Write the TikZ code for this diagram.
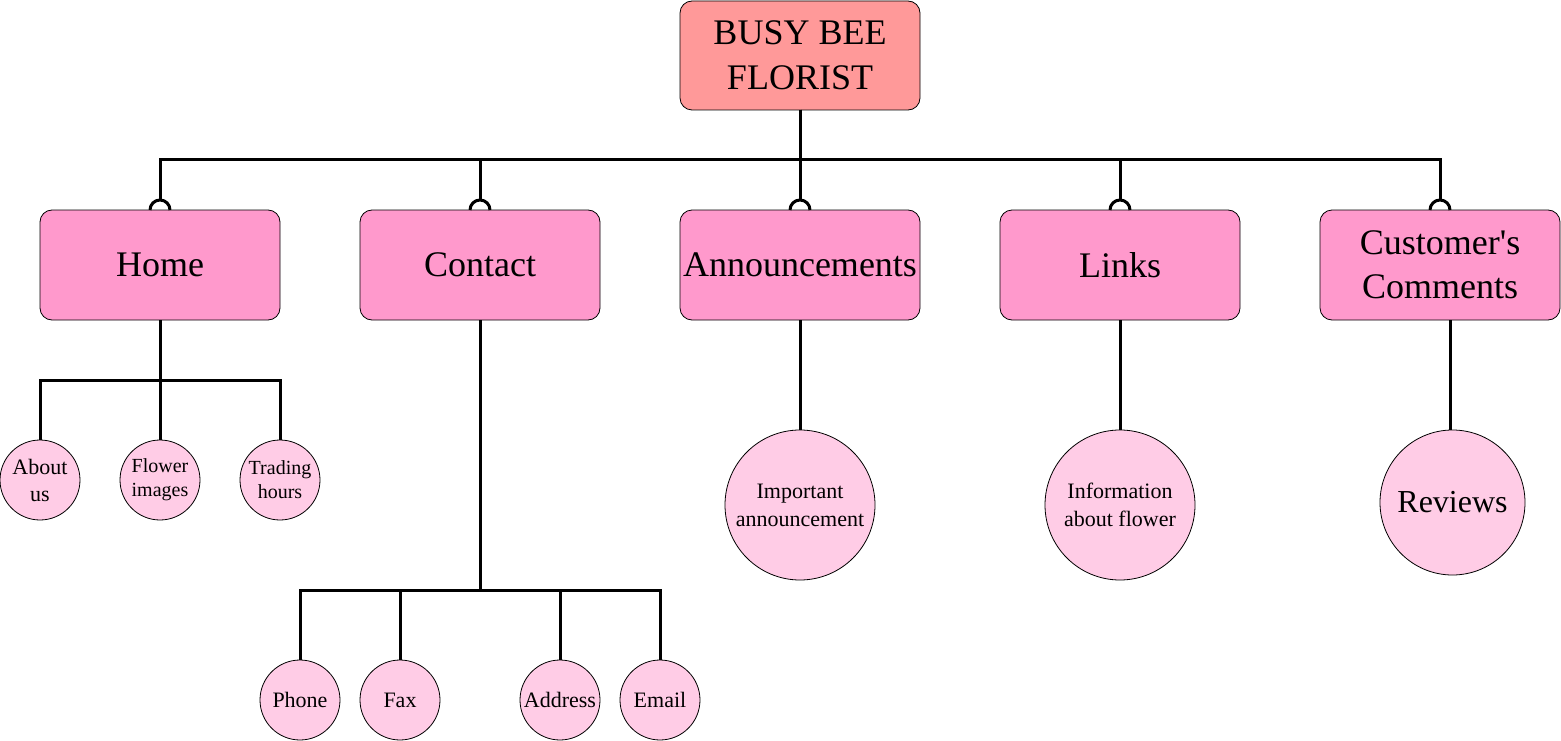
\documentclass[tikz,border=0pt]{standalone}
\usepackage{fontspec}
\setmainfont{Liberation Serif}
\definecolor{rootfill}{HTML}{FF9999}
\definecolor{boxfill}{HTML}{FF99CC}
\definecolor{leaffill}{HTML}{FFCCE6}
\newcommand{\straightquote}{{\XeTeXglyph\XeTeXcharglyph"27\relax}}
\begin{document}
\begin{tikzpicture}[x=1pt,y=1pt,
  rootbox/.style={draw=black,line width=0.8pt,fill=rootfill,rounded corners=12pt,minimum width=240pt,minimum height=109pt,inner sep=0pt,outer sep=0pt,align=center,font=\fontsize{36}{45}\selectfont},
  pagebox/.style={draw=black,line width=0.8pt,fill=boxfill,rounded corners=12pt,minimum width=240pt,minimum height=110pt,inner sep=0pt,outer sep=0pt,align=center,font=\fontsize{36}{44}\selectfont},
  leaf/.style={draw=black,line width=0.8pt,fill=leaffill,circle,inner sep=0pt,outer sep=0pt,align=center},
  smallleaf/.style={leaf,minimum size=80pt},
  bigleaf/.style={leaf,minimum size=150pt,font=\fontsize{22}{28}\selectfont},
  conn/.style={line width=3pt},
  tipc/.style={line width=3pt}
]
\useasboundingbox (0,0) rectangle (1561,-741);
% root
\node[rootbox] (root) at (800,-55.5) {BUSY BEE\\FLORIST};
% second level
\node[pagebox] (home) at (160,-265) {Home};
\node[pagebox] (contact) at (480,-265) {Contact};
\node[pagebox] (ann) at (800,-265) {Announcements};
\node[pagebox] (links) at (1120,-265) {Links};
\node[pagebox] (cc) at (1440,-265) {Customer\straightquote s\\Comments};
% leaves
\node[smallleaf,font=\fontsize{22}{27}\selectfont] (about) at (40,-480) {About\\us};
\node[smallleaf,font=\fontsize{20}{24}\selectfont] (flower) at (160,-480) {Flower\\images};
\node[smallleaf,font=\fontsize{20}{24}\selectfont] (trading) at (280,-480) {Trading\\hours};
\node[smallleaf,font=\fontsize{22}{27}\selectfont] (phone) at (300,-700) {Phone};
\node[smallleaf,font=\fontsize{22}{27}\selectfont] (fax) at (400,-700) {Fax};
\node[smallleaf,font=\fontsize{22}{27}\selectfont] (address) at (560,-700) {Address};
\node[smallleaf,font=\fontsize{22}{27}\selectfont] (email) at (660,-700) {Email};
\node[bigleaf] (imp) at (800,-505) {Important\\announcement};
\node[bigleaf] (info) at (1120,-505) {Information\\about flower};
\node[leaf,minimum size=145pt,font=\fontsize{32}{38}\selectfont] (rev) at (1452.5,-502.5) {Reviews};
% bus from root
\coordinate (busy) at (800,-160);
\foreach \n in {home,contact,ann,links,cc}{
  \draw[conn] (root.south) -- (root.south |- busy) -| ([yshift=10pt]\n.north);
  \draw[tipc] ([xshift=-10pt]\n.north) arc[start angle=180,end angle=0,radius=10pt];
}
% home children
\coordinate (hbus) at (160,-380);
\foreach \n in {about,flower,trading}{
  \draw[conn] (home.south) -- (home.south |- hbus) -| (\n.north);
}
% contact children
\coordinate (cbus) at (480,-590);
\foreach \n in {phone,fax,address,email}{
  \draw[conn] (contact.south) -- (contact.south |- cbus) -| (\n.north);
}
\draw[conn] (ann.south) -- (imp.north);
\draw[conn] (links.south) -- (info.north);
\draw[conn] ([xshift=10pt]cc.south) -- ([xshift=-2.5pt]rev.north);
\end{tikzpicture}
\end{document}
